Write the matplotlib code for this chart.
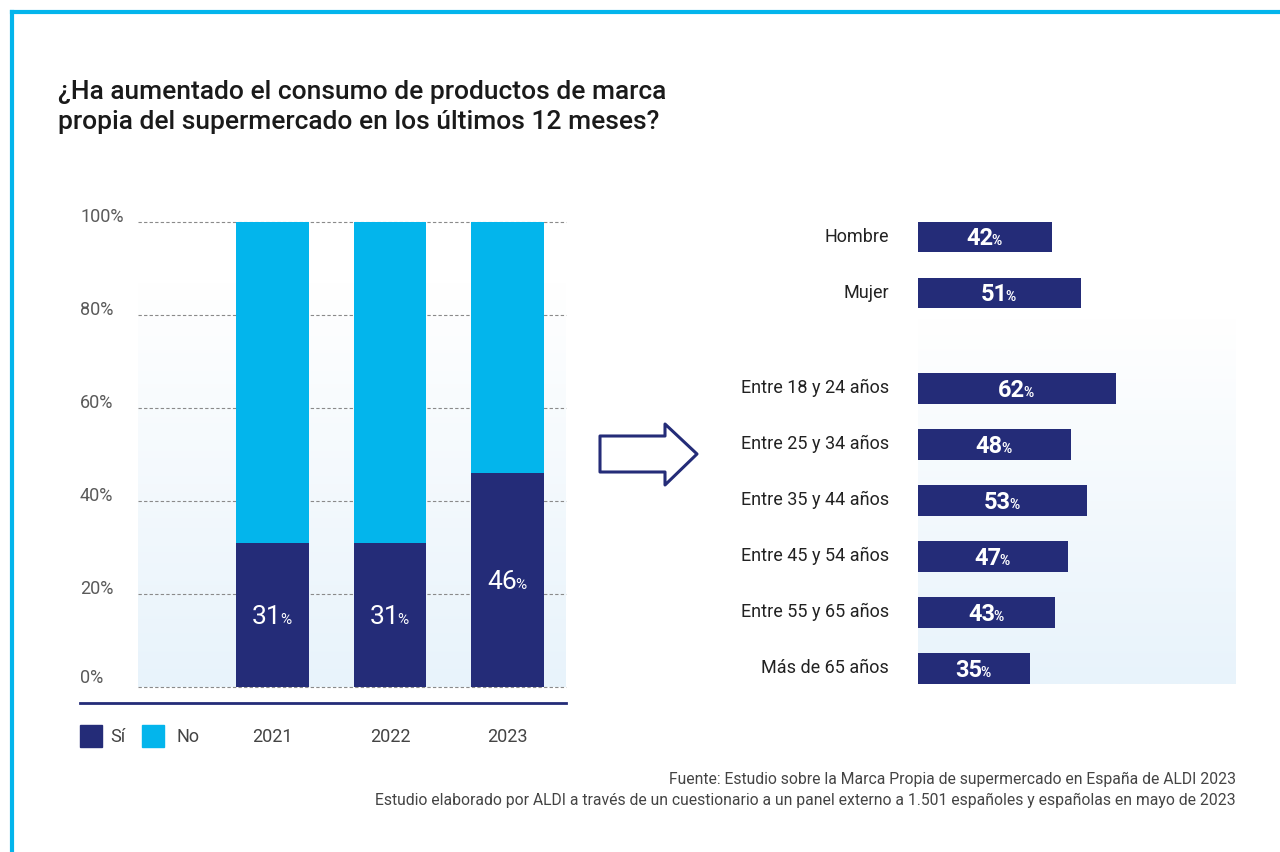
"""
Consumo de marca propia - recreación del gráfico con matplotlib
"""

import numpy as np
import matplotlib.pyplot as plt
from matplotlib.lines import Line2D
from matplotlib.patches import Polygon, Rectangle
from matplotlib.colors import LinearSegmentedColormap
from matplotlib.transforms import blended_transform_factory

plt.rcParams['font.family'] = ['Roboto', 'DejaVu Sans']

NAVY = '#242C78'
CYAN = '#03B5EC'
W, H = 1280, 852

# Datos: evolución anual
years = ['2021', '2022', '2023']
si_values = [31, 31, 46]
no_values = [69, 69, 54]
y_ticks = [0, 20, 40, 60, 80, 100]

# Datos: desglose 2023 por sexo y edad
segments = ['Hombre', 'Mujer', 'Entre 18 y 24 años', 'Entre 25 y 34 años',
            'Entre 35 y 44 años', 'Entre 45 y 54 años', 'Entre 55 y 65 años',
            'Más de 65 años']
segment_values = [42, 51, 62, 48, 53, 47, 43, 35]
segment_rows = [0, 1, 2.7, 3.7, 4.7, 5.7, 6.7, 7.7]

title = ('¿Ha aumentado el consumo de productos de marca\n'
         'propia del supermercado en los últimos 12 meses?')
source_1 = 'Fuente: Estudio sobre la Marca Propia de supermercado en España de ALDI 2023'
source_2 = ('Estudio elaborado por ALDI a través de un cuestionario a un panel externo '
            'a 1.501 españoles y españolas en mayo de 2023')


def fx(px):
    return px / W


def fy(py):
    return 1 - py / H


fig = plt.figure(figsize=(W / 100, H / 100), dpi=100)
fig.patch.set_facecolor('white')

# Marco cian
fig.add_artist(Line2D([fx(12), fx(1280)], [fy(12), fy(12)], color=CYAN, lw=3))
fig.add_artist(Line2D([fx(12), fx(12)], [fy(12), fy(852)], color=CYAN, lw=3))

# Título
fig.text(fx(58), fy(80), title, ha='left', va='top', fontsize=19, fontweight='medium',
         color='#1a1a1a', linespacing=1.3)

bg_cmap = LinearSegmentedColormap.from_list('bg', ['#FFFFFF', '#E8F3FB'])
grad = np.linspace(0, 1, 256).reshape(-1, 1)

pct_labels = []


def pct_label(ax, x, y, num, size_num, size_pct, weight):
    t1 = ax.annotate(num, (x, y), xytext=(0, 0), textcoords='offset pixels',
                     ha='right', va='baseline', fontsize=size_num,
                     fontweight=weight, color='white', zorder=5)
    t2 = ax.annotate('%', (x, y), xytext=(0, 0), textcoords='offset pixels',
                     ha='left', va='baseline', fontsize=size_pct,
                     fontweight=weight, color='white', zorder=5)
    pct_labels.append((t1, t2))


# 1. Barras apiladas por año
ax1 = fig.add_axes([fx(138), fy(687), (566 - 138) / W, (687 - 222) / H])
x = np.arange(len(years))
x_left = (138 - 272.5) / 117.5
x_right = (566 - 272.5) / 117.5
ax1.imshow(grad, extent=[x_left, x_right, 0, 87], aspect='auto', cmap=bg_cmap,
           origin='upper', zorder=0)
for t in y_ticks:
    ax1.axhline(t, color='#8a8a8a', lw=0.8, ls=(0, (3, 2)), zorder=1, clip_on=False)
ax1.bar(x, si_values, width=0.62, color=NAVY, zorder=2)
ax1.bar(x, no_values, width=0.62, bottom=si_values, color=CYAN, zorder=2)
ax1.set_xlim(x_left, x_right)
ax1.set_ylim(0, 100)
ax1.axis('off')

trans_y = blended_transform_factory(fig.transFigure, ax1.transData)
for t in y_ticks:
    ax1.text(fx(80), t + (0.9 if t == 0 else 0.1), f'{t}%', transform=trans_y,
             ha='left', va='baseline', fontsize=13, color='#5a5a5a')

trans_x = blended_transform_factory(ax1.transData, fig.transFigure)
for i, yr in enumerate(years):
    ax1.text(i, fy(737), yr, transform=trans_x, ha='center', va='center',
             fontsize=13, color='#444444')

for i, v in enumerate(si_values):
    pct_label(ax1, i, v / 2 - 2.0, str(v), 19, 11, 'normal')

fig.add_artist(Line2D([fx(80), fx(566)], [fy(703), fy(703)], color=NAVY, lw=2))

# Leyenda
fig.add_artist(Rectangle((fx(80), fy(747)), 22 / W, 22 / H, color=NAVY,
                         transform=fig.transFigure))
fig.add_artist(Rectangle((fx(142), fy(747)), 22 / W, 22 / H, color=CYAN,
                         transform=fig.transFigure))
fig.text(fx(110), fy(737), 'Sí', ha='left', va='center', fontsize=13, color='#444444')
fig.text(fx(176), fy(737), 'No', ha='left', va='center', fontsize=13, color='#444444')

# Flecha
arrow_px = [(600, 436), (665, 436), (665, 424), (697, 454),
            (665, 485), (665, 472), (600, 472)]
fig.add_artist(Polygon([(fx(px), fy(py)) for px, py in arrow_px], closed=True,
                       fill=False, edgecolor=NAVY, lw=2.2, joinstyle='round',
                       transform=fig.transFigure))

# 2. Barras horizontales por sexo y edad
ax2 = fig.add_axes([fx(918), fy(684), (1236 - 918) / W, (684 - 222) / H])
x_max = 318 / 3.19
ax2.imshow(grad, extent=[0, x_max, 7.982, 1.45], aspect='auto', cmap=bg_cmap,
           origin='upper', zorder=0)
ax2.barh(segment_rows, segment_values, height=0.55, color=NAVY, zorder=2)
ax2.set_xlim(0, x_max)
ax2.set_ylim(7.982, -0.268)
ax2.axis('off')

trans_y2 = blended_transform_factory(fig.transFigure, ax2.transData)
for row, name in zip(segment_rows, segments):
    ax2.text(fx(889), row, name, transform=trans_y2, ha='right', va='center',
             fontsize=13, color='#222222')

for row, v in zip(segment_rows, segment_values):
    pct_label(ax2, v / 2, row + 0.15, str(v), 17, 10, 'bold')

# Fuente
fig.text(fx(1236), fy(779), source_1, ha='right', va='center', fontsize=11.3, color='#444444')
fig.text(fx(1236), fy(800), source_2, ha='right', va='center', fontsize=11.3, color='#444444')

# Centrar número + % en cada barra (el % va pegado al número)
renderer = fig.canvas.get_renderer()
for t1, t2 in pct_labels:
    w1 = t1.get_window_extent(renderer).width
    w2 = t2.get_window_extent(renderer).width
    shift = (w1 - w2) / 2
    t1.xyann = (shift, 0)
    t2.xyann = (shift - 2, 0)

plt.savefig('out.png', dpi=100, facecolor='white')
print('Saved out.png')
